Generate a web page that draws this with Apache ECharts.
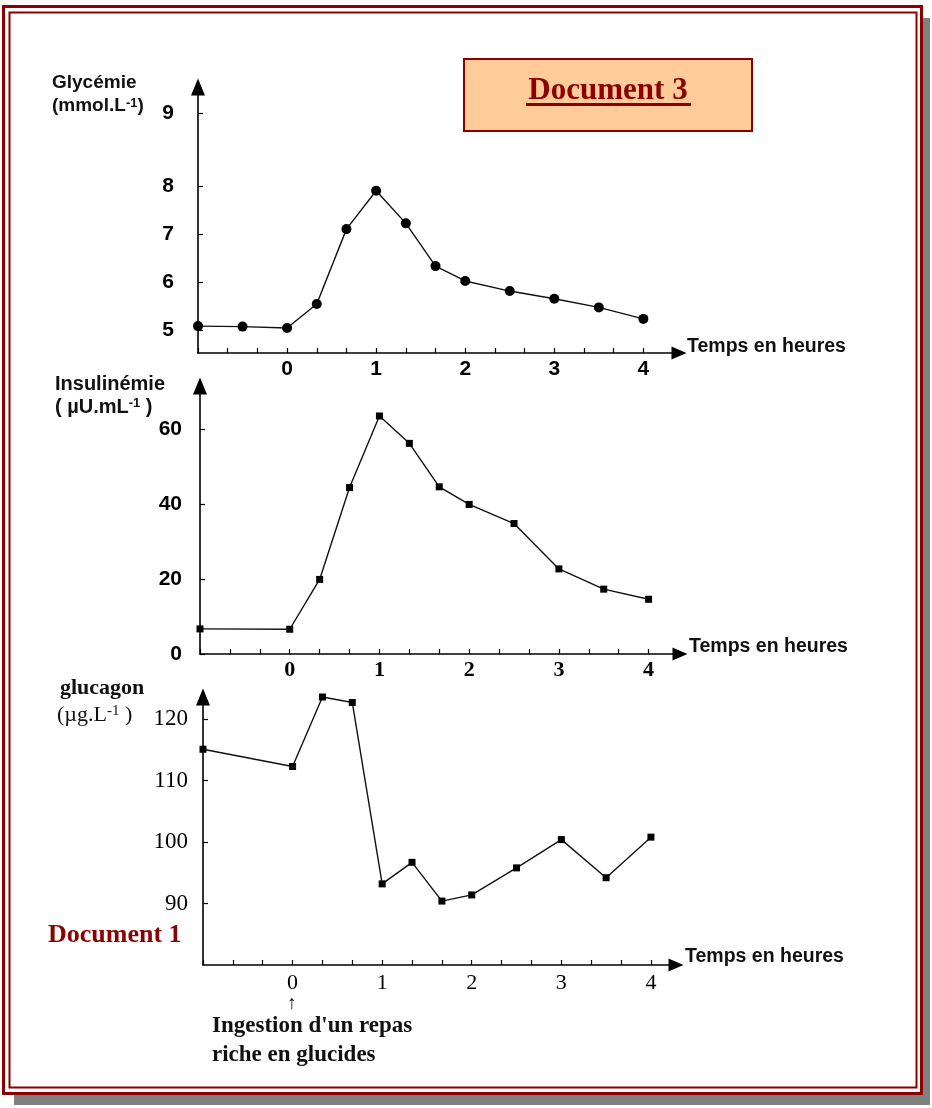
<!DOCTYPE html>
<html><head><meta charset="utf-8">
<script src="https://cdn.jsdelivr.net/npm/echarts@6/dist/echarts.min.js"></script>
<style>html,body{margin:0;padding:0;background:#fff}#c{width:932px;height:1108px}</style>
</head><body><div id="c"></div>
<script>
// ---- data (time in hours) ----
const glyTimes  = [-1, -0.5, 0, 1/3, 2/3, 1, 4/3, 5/3, 2, 2.5, 3, 3.5, 4];
const glyValues = [5.08, 5.07, 5.04, 5.54, 7.10, 7.90, 7.22, 6.33, 6.02, 5.81, 5.65, 5.47, 5.23];
const insTimes  = [-1, 0, 1/3, 2/3, 1, 4/3, 5/3, 2, 2.5, 3, 3.5, 4];
const insValues = [6.7, 6.6, 19.9, 44.4, 63.5, 56.2, 44.6, 39.9, 34.8, 22.7, 17.3, 14.6];
const glcTimes  = [-1, 0, 1/3, 2/3, 1, 4/3, 5/3, 2, 2.5, 3, 3.5, 4];
const glcValues = [115.1, 112.3, 123.6, 122.7, 93.2, 96.7, 90.4, 91.4, 95.8, 100.4, 94.2, 100.8];
// ---- tick labels ----
const xTickValues  = [-1, -2/3, -1/3, 0, 1/3, 2/3, 1, 4/3, 5/3, 2, 7/3, 8/3, 3, 10/3, 11/3, 4];
const xLabelValues = [0, 1, 2, 3, 4];
// the original glycaemia axis draws its "9" higher than a linear scale would
const glyLabelValues = [5, 6, 7, 8, 9.52];
const glyLabelTexts  = ['5', '6', '7', '8', '9'];
const insLabelValues = [0, 20, 40, 60];
const glcLabelValues = [90, 100, 110, 120];

const RED = '#8B0000';
const SANS = 'Liberation Sans, Arial, sans-serif';
const SERIF = 'Liberation Serif, Times New Roman, serif';

function xAxisCfg(idx, min, max, lab) {
  return {
    gridIndex: idx, type: 'value', min: min, max: max,
    axisLine: {show: true, onZero: false, lineStyle: {color: '#000', width: 1.6},
      symbol: ['none', 'triangle'], symbolSize: [13, 15]},
    axisTick: {show: true, inside: true, length: 5, lineStyle: {color: '#000', width: 1.2},
      customValues: xTickValues},
    axisLabel: Object.assign({customValues: xLabelValues, color: '#000'}, lab),
    splitLine: {show: false}
  };
}
function yAxisCfg(idx, min, max, vals, lab, fmt) {
  return {
    gridIndex: idx, type: 'value', min: min, max: max,
    axisLine: {show: true, onZero: false, lineStyle: {color: '#000', width: 1.6},
      symbol: ['none', 'triangle'], symbolSize: [14, 17]},
    axisTick: {show: true, inside: true, length: 5, lineStyle: {color: '#000', width: 1.2},
      customValues: vals},
    axisLabel: Object.assign({customValues: vals, color: '#000', formatter: fmt}, lab),
    splitLine: {show: false}
  };
}
function pairs(t, v) { return t.map((x, i) => [x, v[i]]); }
function lineSeries(idx, data, symbol, size) {
  return {
    type: 'line', xAxisIndex: idx, yAxisIndex: idx, data: data,
    symbol: symbol, symbolSize: size, showSymbol: true,
    lineStyle: {color: '#111', width: 1.4},
    itemStyle: {color: '#000'}, animation: false, silent: true
  };
}

const chart = echarts.init(document.getElementById('c'), null, {renderer: 'canvas'});
const option = {
  animation: false,
  backgroundColor: '#fff',
  grid: [
    {left: 198, right: 253, top: 87, bottom: 755},
    {left: 200, right: 252, top: 386, bottom: 454},
    {left: 203, right: 256, top: 697, bottom: 143}
  ],
  xAxis: [
    xAxisCfg(0, -1, 4.40, {fontFamily: SANS, fontWeight: 'bold', fontSize: 21, margin: 6}),
    xAxisCfg(1, -1, 4.35, {fontFamily: SERIF, fontWeight: 'bold', fontSize: 22, margin: 5}),
    xAxisCfg(2, -1, 4.28, {fontFamily: SERIF, fontSize: 22, margin: 7})
  ],
  yAxis: [
    yAxisCfg(0, 4.52, 10.06, glyLabelValues,
      {fontFamily: SANS, fontWeight: 'bold', fontSize: 21, margin: 24},
      function (v) { const i = glyLabelValues.indexOf(v); return i >= 0 ? glyLabelTexts[i] : ''; }),
    yAxisCfg(1, 0, 71.5, insLabelValues,
      {fontFamily: SANS, fontWeight: 'bold', fontSize: 21, margin: 18}, null),
    yAxisCfg(2, 80, 123.6, glcLabelValues,
      {fontFamily: SERIF, fontSize: 23, margin: 15}, null)
  ],
  series: [
    lineSeries(0, pairs(glyTimes, glyValues), 'circle', 10),
    lineSeries(1, pairs(insTimes, insValues), 'rect', 7),
    lineSeries(2, pairs(glcTimes, glcValues), 'rect', 7)
  ],
  graphic: [
    // shadow strips
    {type: 'rect', shape: {x: 923, y: 18, width: 7, height: 1087}, style: {fill: '#808080'}, silent: true},
    {type: 'rect', shape: {x: 14, y: 1095, width: 916, height: 10}, style: {fill: '#808080'}, silent: true},
    // double frame
    {type: 'rect', shape: {x: 3.5, y: 6.5, width: 918, height: 1087}, style: {fill: null, stroke: RED, lineWidth: 3}, silent: true},
    {type: 'rect', shape: {x: 9.5, y: 12.5, width: 907, height: 1075}, style: {fill: null, stroke: RED, lineWidth: 2}, silent: true},
    // Document 3 box
    {type: 'rect', shape: {x: 464, y: 59, width: 288, height: 72}, style: {fill: '#FFCC99', stroke: RED, lineWidth: 2}, silent: true},
    {type: 'text', style: {text: 'Document 3', x: 608, y: 91, textAlign: 'center', textVerticalAlign: 'middle',
      font: 'bold 31px ' + SERIF, fill: RED}, silent: true},
    {type: 'rect', shape: {x: 526, y: 103, width: 165, height: 3}, style: {fill: RED}, silent: true},
    // Document 1
    {type: 'text', style: {text: 'Document 1', x: 48, y: 935, textAlign: 'left', textVerticalAlign: 'middle',
      font: 'bold 26px ' + SERIF, fill: RED}, silent: true},
    // axis titles
    {type: 'text', style: {text: 'Glycémie', x: 52, y: 83, textVerticalAlign: 'middle', font: 'bold 19px ' + SANS, fill: '#111'}, silent: true},
    {type: 'text', style: {text: '(mmol.L{s|-1})', x: 52, y: 106, textVerticalAlign: 'middle', font: 'bold 19px ' + SANS, fill: '#111',
      rich: {s: {font: 'bold 13px ' + SANS, verticalAlign: 'top', fill: '#111'}}}, silent: true},
    {type: 'text', style: {text: 'Insulinémie', x: 55, y: 384, textVerticalAlign: 'middle', font: 'bold 20px ' + SANS, fill: '#111'}, silent: true},
    {type: 'text', style: {text: '( µU.mL{s|-1} )', x: 55, y: 407, textVerticalAlign: 'middle', font: 'bold 20px ' + SANS, fill: '#111',
      rich: {s: {font: 'bold 13px ' + SANS, verticalAlign: 'top', fill: '#111'}}}, silent: true},
    {type: 'text', style: {text: 'glucagon', x: 60, y: 688, textVerticalAlign: 'middle', font: 'bold 22px ' + SERIF, fill: '#111'}, silent: true},
    {type: 'text', style: {text: '(µg.L{s|-1} )', x: 57, y: 715, textVerticalAlign: 'middle', font: '22px ' + SERIF, fill: '#111',
      rich: {s: {font: '15px ' + SERIF, verticalAlign: 'top', fill: '#111'}}}, silent: true},
    // x-axis titles
    {type: 'text', style: {text: 'Temps en heures', x: 687, y: 347, textVerticalAlign: 'middle', font: 'bold 19.5px ' + SANS, fill: '#111'}, silent: true},
    {type: 'text', style: {text: 'Temps en heures', x: 689, y: 647, textVerticalAlign: 'middle', font: 'bold 19.5px ' + SANS, fill: '#111'}, silent: true},
    {type: 'text', style: {text: 'Temps en heures', x: 685, y: 957, textVerticalAlign: 'middle', font: 'bold 19.5px ' + SANS, fill: '#111'}, silent: true},
    // meal annotation
    {type: 'text', style: {text: '↑', x: 292, y: 1004, textAlign: 'center', textVerticalAlign: 'middle', font: 'bold 19px ' + SERIF, fill: '#111'}, silent: true},
    {type: 'text', style: {text: "Ingestion d'un repas", x: 212, y: 1026, textVerticalAlign: 'middle', font: 'bold 23px ' + SERIF, fill: '#111'}, silent: true},
    {type: 'text', style: {text: 'riche en glucides', x: 212, y: 1055, textVerticalAlign: 'middle', font: 'bold 23px ' + SERIF, fill: '#111'}, silent: true}
  ]
};
chart.setOption(option);
</script>
</body></html>
